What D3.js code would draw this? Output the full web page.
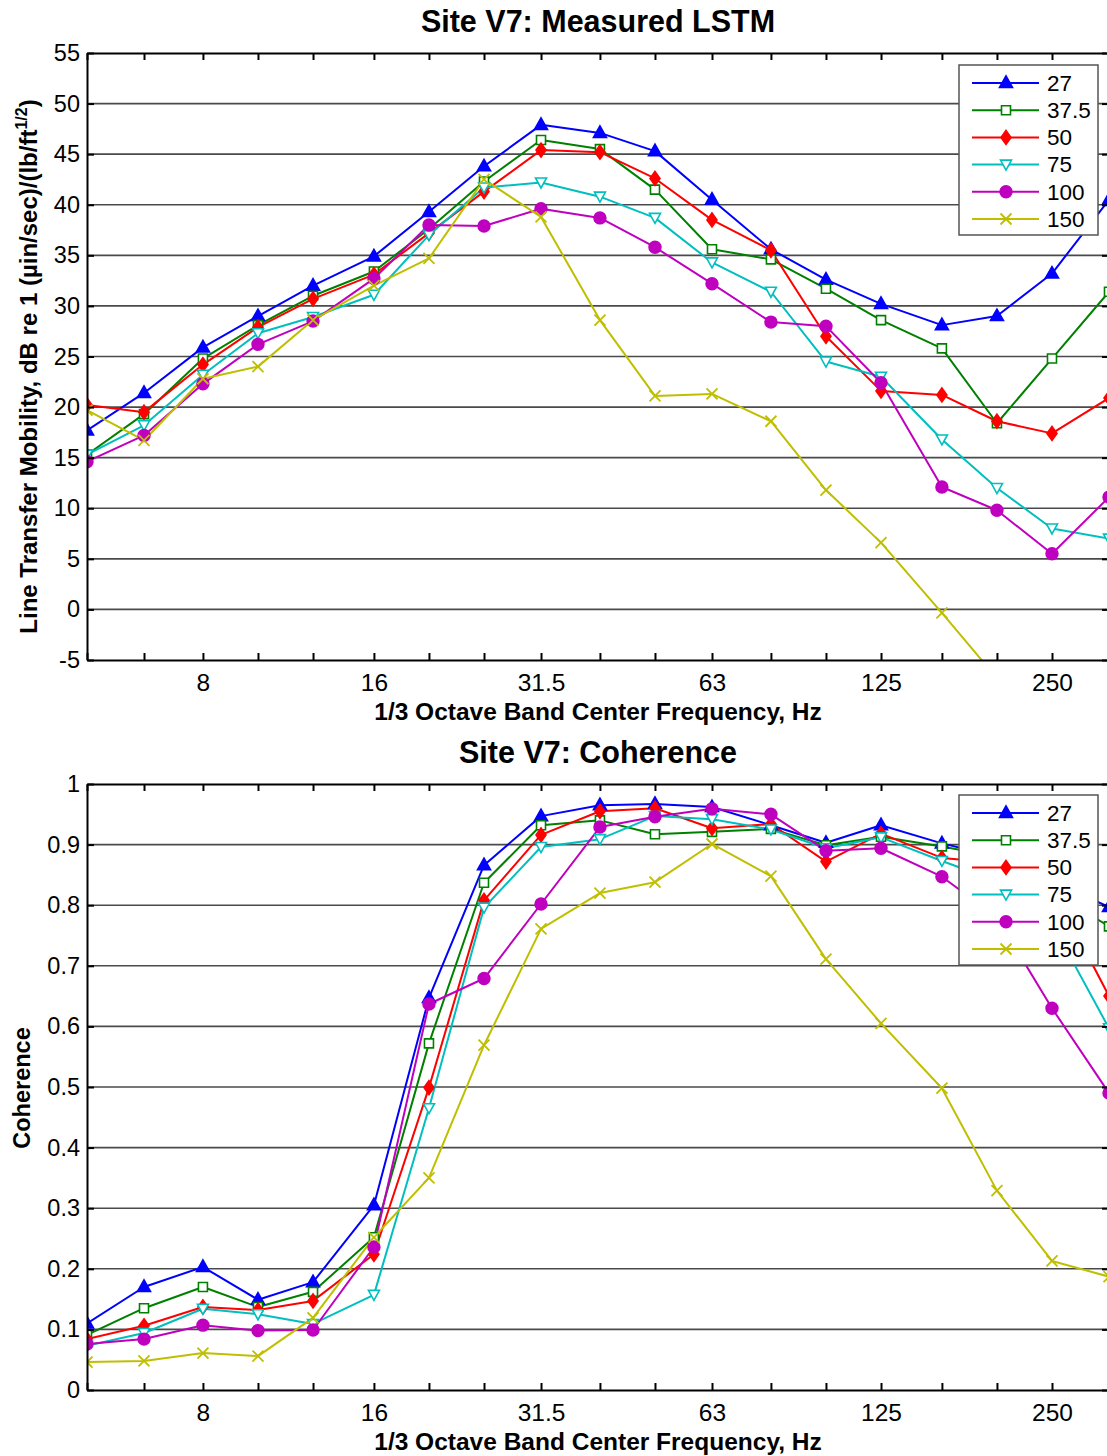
<!DOCTYPE html>
<html>
<head>
<meta charset="utf-8">
<script src="https://cdn.jsdelivr.net/npm/d3@7"></script>
<style>
  html, body { margin: 0; padding: 0; background: #fff; overflow: hidden; }
  text { font-family: "Liberation Sans", Arial, Helvetica, sans-serif; fill: #000; }
</style>
</head>
<body>
<svg id="chart" width="1107" height="1456"></svg>
<script>
// ---------------- data ----------------
const freqs = [5, 6.3, 8, 10, 12.5, 16, 20, 25, 31.5, 40, 50, 63, 80, 100, 125, 160, 200, 250, 315];
const xTickLabels = [8, 16, 31.5, 63, 125, 250];
const seriesNames = ["27", "37.5", "50", "75", "100", "150"];

// Measured LSTM, dB
const lstm27   = [17.7, 21.4, 25.9, 29.0, 32.0, 34.9, 39.3, 43.8, 47.9, 47.1, 45.3, 40.5, 35.6, 32.6, 30.2, 28.1, 29.0, 33.2, 40.5];
const lstm37_5 = [15.3, 19.3, 24.8, 28.1, 31.0, 33.4, 37.6, 42.3, 46.4, 45.5, 41.5, 35.6, 34.6, 31.7, 28.6, 25.8, 18.4, 24.8, 31.4];
const lstm50   = [20.2, 19.5, 24.2, 27.9, 30.7, 33.1, 37.2, 41.3, 45.4, 45.2, 42.6, 38.5, 35.5, 27.0, 21.6, 21.2, 18.6, 17.4, 20.9];
const lstm75   = [15.3, 18.2, 23.2, 27.3, 28.9, 31.1, 37.0, 41.7, 42.2, 40.8, 38.7, 34.3, 31.4, 24.5, 23.0, 16.8, 12.0, 8.0, 7.0];
const lstm100  = [14.6, 17.2, 22.3, 26.2, 28.5, 32.7, 38.0, 37.9, 39.6, 38.7, 35.8, 32.2, 28.4, 28.0, 22.4, 12.1, 9.8, 5.5, 11.1];
const lstm150  = [19.7, 16.7, 22.8, 24.0, 28.6, 32.0, 34.7, 42.5, 38.8, 28.6, 21.1, 21.3, 18.6, 11.8, 6.6, -0.35, -6.8, null, null];

// Coherence
const coh27   = [0.110, 0.170, 0.203, 0.149, 0.178, 0.305, 0.647, 0.866, 0.947, 0.965, 0.967, 0.962, 0.932, 0.903, 0.932, 0.902, 0.880, 0.840, 0.797];
const coh37_5 = [0.091, 0.135, 0.170, 0.137, 0.162, 0.252, 0.572, 0.837, 0.932, 0.940, 0.917, 0.921, 0.926, 0.899, 0.913, 0.897, 0.880, 0.822, 0.765];
const coh50   = [0.084, 0.106, 0.137, 0.132, 0.147, 0.224, 0.499, 0.808, 0.916, 0.955, 0.960, 0.927, 0.934, 0.872, 0.918, 0.878, 0.870, 0.830, 0.650];
const coh75   = [0.073, 0.094, 0.134, 0.125, 0.109, 0.157, 0.465, 0.796, 0.896, 0.909, 0.947, 0.942, 0.925, 0.894, 0.912, 0.873, 0.840, 0.770, 0.597];
const coh100  = [0.076, 0.084, 0.107, 0.098, 0.099, 0.236, 0.637, 0.679, 0.802, 0.929, 0.946, 0.959, 0.950, 0.890, 0.894, 0.847, 0.780, 0.630, 0.490];
const coh150  = [0.046, 0.048, 0.061, 0.056, 0.119, 0.252, 0.350, 0.569, 0.761, 0.820, 0.838, 0.901, 0.848, 0.711, 0.605, 0.498, 0.329, 0.213, 0.187];

const lstmTicks = [-5, 0, 5, 10, 15, 20, 25, 30, 35, 40, 45, 50, 55];
const cohTicks = [0, 0.1, 0.2, 0.3, 0.4, 0.5, 0.6, 0.7, 0.8, 0.9, 1];

// ---------------- styles ----------------
const colors = ["#0000ff", "#008000", "#ff0000", "#00bfbf", "#bf00bf", "#bfbf00"];
const markers = ["triUp", "square", "diamond", "triDown", "circle", "x"];
const FONT = '"Liberation Sans", Arial, Helvetica, sans-serif';

function markerPath(type) {
  switch (type) {
    case "triUp": return "M0,-7L6.5,4.5L-6.5,4.5Z";
    case "triDown": return "M0,5.5L5.5,-4.5L-5.5,-4.5Z";
    case "square": return "M-4.5,-4.5H4.5V4.5H-4.5Z";
    case "diamond": return "M0,-7L5,0L0,7L-5,0Z";
    case "circle": return d3.symbol(d3.symbolCircle, 110)();
    case "x": return "M-5.5,-5.5L5.5,5.5M-5.5,5.5L5.5,-5.5";
  }
}
function markerFill(type, color) {
  if (type === "square" || type === "triDown") return "#fff";
  if (type === "x") return "none";
  return color;
}

const svg = d3.select("#chart");
const X0 = 87, X1 = 1109;

function drawPanel(opts) {
  const { top, bottom, yDomain, yTicks, yFmt, series, title, ylabel, legendTop, id } = opts;
  const x = d3.scaleLog().domain([5, 315]).range([X0, X1]);
  const y = d3.scaleLinear().domain(yDomain).range([bottom, top]);
  const g = svg.append("g");

  // grid
  g.append("g").selectAll("line").data(yTicks.filter(t => t !== yDomain[0] && t !== yDomain[1]))
    .join("line")
    .attr("x1", X0).attr("x2", X1)
    .attr("y1", d => y(d)).attr("y2", d => y(d))
    .attr("stroke", "#4a4a4a").attr("stroke-width", 1.6);

  // clip
  svg.append("defs").append("clipPath").attr("id", "clip" + id)
    .append("rect").attr("x", X0).attr("y", top).attr("width", X1 - X0).attr("height", bottom - top);

  const plot = g.append("g").attr("clip-path", `url(#clip${id})`);
  const line = d3.line().defined(d => d[1] != null).x(d => x(d[0])).y(d => y(d[1]));

  series.forEach((vals, i) => {
    const pts = freqs.map((f, j) => [f, vals[j]]);
    plot.append("path").datum(pts)
      .attr("d", line).attr("fill", "none")
      .attr("stroke", colors[i]).attr("stroke-width", 2).attr("stroke-linejoin", "round");
  });
  series.forEach((vals, i) => {
    const pts = freqs.map((f, j) => [f, vals[j]]).filter(d => d[1] != null);
    plot.append("g").selectAll("path").data(pts).join("path")
      .attr("transform", d => `translate(${x(d[0])},${y(d[1])})`)
      .attr("d", markerPath(markers[i]))
      .attr("fill", markerFill(markers[i], colors[i]))
      .attr("stroke", colors[i]).attr("stroke-width", markers[i] === "x" ? 1.8 : 1.6);
  });

  // axes
  const axB = d3.axisBottom(x).tickValues(freqs).tickSizeInner(-7).tickSizeOuter(0).tickPadding(14)
    .tickFormat(d => xTickLabels.includes(d) ? String(d) : "");
  const axT = d3.axisTop(x).tickValues(freqs).tickSizeInner(-7).tickSizeOuter(0).tickFormat("");
  const axL = d3.axisLeft(y).tickValues(yTicks).tickSizeInner(-7).tickSizeOuter(0).tickPadding(7).tickFormat(yFmt);
  const axR = d3.axisRight(y).tickValues(yTicks).tickSizeInner(-7).tickSizeOuter(0).tickFormat("");

  function style(sel, fs) {
    sel.selectAll(".domain").attr("stroke", "#000").attr("stroke-width", 2);
    sel.selectAll(".tick line").attr("stroke", "#000").attr("stroke-width", 2);
    sel.selectAll("text").attr("font-family", FONT).attr("font-size", fs).attr("fill", "#000");
  }
  g.append("g").attr("transform", `translate(0,${bottom})`).call(axB).call(style, 24.5);
  g.append("g").attr("transform", `translate(0,${top})`).call(axT).call(style, 24);
  g.append("g").attr("transform", `translate(${X0},0)`).call(axL).call(style, 23.5);
  g.append("g").attr("transform", `translate(${X1},0)`).call(axR).call(style, 24);

  // title
  g.append("text").attr("x", (X0 + X1) / 2).attr("y", top - 21)
    .attr("text-anchor", "middle").attr("font-weight", "bold").attr("font-size", 30.5).text(title);
  // x label
  g.append("text").attr("x", (X0 + X1) / 2).attr("y", bottom + 60)
    .attr("text-anchor", "middle").attr("font-weight", "bold").attr("font-size", 24.5)
    .text("1/3 Octave Band Center Frequency, Hz");
  // y label
  ylabel(g, (top + bottom) / 2);

  // legend
  const lx = 959, lw = 139, lh = 170;
  const leg = g.append("g");
  leg.append("rect").attr("x", lx).attr("y", legendTop).attr("width", lw).attr("height", lh)
    .attr("fill", "#fff").attr("stroke", "#555").attr("stroke-width", 1.5);
  seriesNames.forEach((name, i) => {
    const cy = legendTop + 18 + i * 27.2;
    leg.append("line").attr("x1", 972).attr("x2", 1039).attr("y1", cy).attr("y2", cy)
      .attr("stroke", colors[i]).attr("stroke-width", 2);
    leg.append("path").attr("transform", `translate(1006,${cy})`).attr("d", markerPath(markers[i]))
      .attr("fill", markerFill(markers[i], colors[i])).attr("stroke", colors[i])
      .attr("stroke-width", markers[i] === "x" ? 1.8 : 1.6);
    leg.append("text").attr("x", 1047).attr("y", cy).attr("dy", "0.35em")
      .attr("font-size", 22.5).text(name);
  });
}

drawPanel({
  id: "a", top: 53, bottom: 660, yDomain: [-5, 55], yTicks: lstmTicks, yFmt: d => String(d),
  series: [lstm27, lstm37_5, lstm50, lstm75, lstm100, lstm150],
  title: "Site V7: Measured LSTM", legendTop: 65,
  ylabel: (g, cy) => {
    const t = g.append("text").attr("transform", `translate(37,${cy + 10}) rotate(-90)`)
      .attr("text-anchor", "middle").attr("font-weight", "bold").attr("font-size", 24);
    t.append("tspan").text("Line Transfer Mobility, dB re 1 (µin/sec)/(lb/ft");
    t.append("tspan").attr("font-size", 16).attr("dy", -10).text("1/2");
    t.append("tspan").attr("dy", 10).text(")");
  }
});

drawPanel({
  id: "b", top: 784, bottom: 1390, yDomain: [0, 1], yTicks: cohTicks,
  yFmt: d => d === 0 ? "0" : d === 1 ? "1" : d3.format(".1f")(d),
  series: [coh27, coh37_5, coh50, coh75, coh100, coh150],
  title: "Site V7: Coherence", legendTop: 795,
  ylabel: (g, cy) => {
    g.append("text").attr("transform", `translate(30,${cy + 1}) rotate(-90)`)
      .attr("text-anchor", "middle").attr("font-weight", "bold").attr("font-size", 23.5).text("Coherence");
  }
});
</script>
</body>
</html>
